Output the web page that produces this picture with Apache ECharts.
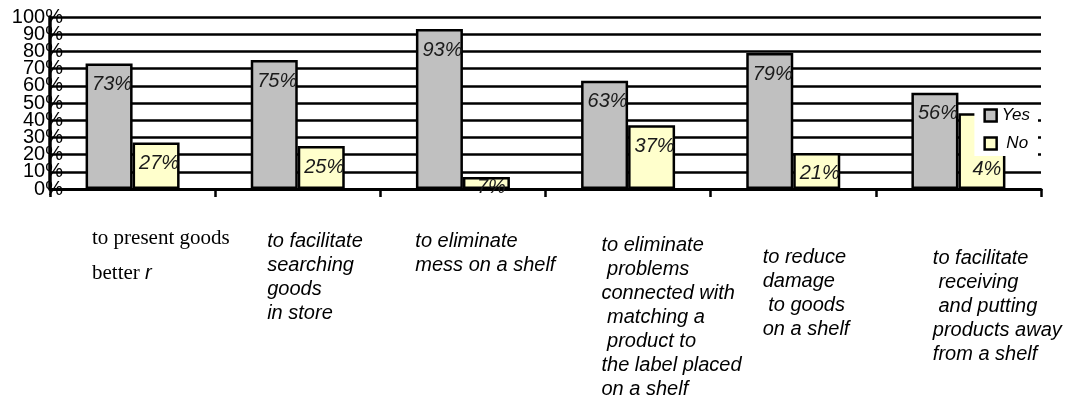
<!DOCTYPE html>
<html><head><meta charset="utf-8">
<script src="https://cdn.jsdelivr.net/npm/echarts@6/dist/echarts.min.js"></script>
<style>html,body{margin:0;padding:0;background:#fff}#c{width:1075px;height:401px}</style>
</head><body><div id="c"></div>
<script>
// ---- data ----
const categories = [
  'to present goods better r',
  'to facilitate searching goods in store',
  'to eliminate mess on a shelf',
  'to eliminate problems connected with matching a product to the label placed on a shelf',
  'to reduce damage to goods on a shelf',
  'to facilitate receiving and putting products away from a shelf'
];
const categoryLines = [
  ['to present goods', 'better r'],
  ['to facilitate', 'searching', 'goods', 'in store'],
  ['to eliminate', 'mess on a shelf'],
  ['to eliminate', ' problems', 'connected with', ' matching a', ' product to', 'the label placed', 'on a shelf'],
  ['to reduce', 'damage', ' to goods', 'on a shelf'],
  ['to facilitate', ' receiving', ' and putting', 'products away', 'from a shelf']
];
const seriesNames = ['Yes', 'No'];
const yesValues = [73, 75, 93, 63, 79, 56];
const noValues = [27, 25, 7, 37, 21, 44];
const yesLabels = ['73%', '75%', '93%', '63%', '79%', '56%'];
const noLabels = ['27%', '25%', '7%', '37%', '21%', '4%'];
const yTickLabels = ['0%', '10%', '20%', '30%', '40%', '50%', '60%', '70%', '80%', '90%', '100%'];

// ---- layout / style ----
const SANS = "'Liberation Sans', Arial, sans-serif";
const SERIF = "'Liberation Serif', 'Times New Roman', serif";
const padLeft = [42, 52, 35, 56, 52, 57];
const padTop = [0, 8, 8, 12, 24, 25];
const noLabelOffsets = {2: [5, -11], 5: [5, 35]};

const rich = {};
for (let i = 0; i < 6; i++) {
  rich['sp' + i] = {fontSize: 1, lineHeight: padTop[i] || 1};
  rich['t' + i] = i === 0
    ? {fontFamily: SERIF, fontSize: 21, lineHeight: 35, color: '#000', padding: [0, 0, 0, padLeft[i]]}
    : {fontFamily: SANS, fontStyle: 'italic', fontSize: 20, lineHeight: 24, color: '#000', padding: [0, 0, 0, padLeft[i]]};
}
rich.ri = {fontFamily: SANS, fontStyle: 'italic', fontSize: 20, lineHeight: 35, color: '#000'};

function catLabel(value, idx) {
  if (idx >= categoryLines.length) return '';
  const lines = categoryLines[idx];
  const parts = [];
  if (padTop[idx] > 0) parts.push('{sp' + idx + '| }');
  lines.forEach(function (ln) {
    if (idx === 0 && / r$/.test(ln)) {
      parts.push('{t0|' + ln.slice(0, -1) + '}{ri|r}');
    } else {
      parts.push('{t' + idx + '|' + ln + '}');
    }
  });
  return parts.join('\n');
}

const boundaryCats = categories.concat(['']);

const noData = noValues.map(function (v, i) {
  const o = {value: v};
  if (noLabelOffsets[i]) o.label = {offset: noLabelOffsets[i]};
  return o;
});

const barLabel = {
  show: true, position: 'insideTop', distance: 11, offset: [3, 0],
  fontFamily: SANS, fontStyle: 'italic', fontSize: 20, color: '#1a1a1a'
};

const yLabelStyle = {margin: -13, fontFamily: SANS, fontSize: 20, color: '#000', hideOverlap: false};
const yLast = yTickLabels.length - 1;

const chart = echarts.init(document.getElementById('c'), null, {renderer: 'canvas'});
chart.setOption({
  animation: false,
  backgroundColor: '#fff',
  grid: {left: 50, right: 34, top: 17, bottom: 212, containLabel: false, outerBoundsMode: 'none'},
  legend: {
    data: seriesNames,
    orient: 'vertical', right: 37, top: 106,
    backgroundColor: '#fff', padding: [1, 8, 4, 9],
    itemWidth: 12, itemHeight: 12, itemGap: 11, icon: 'rect',
    itemStyle: {borderColor: '#000', borderWidth: 2.5},
    formatter: function (n) { return n === 'No' ? ' No' : n; },
    textStyle: {fontFamily: SANS, fontStyle: 'italic', fontSize: 17, color: '#000'}
  },
  xAxis: [{
    type: 'category', data: categories, position: 'bottom', gridIndex: 0,
    axisLine: {show: true, lineStyle: {color: '#000', width: 3}},
    axisTick: {show: true, length: 8, interval: 0, alignWithLabel: false, lineStyle: {color: '#000', width: 2.5}},
    axisLabel: {show: false},
    splitLine: {show: false}
  }, {
    type: 'category', data: boundaryCats, position: 'bottom', gridIndex: 0, boundaryGap: false,
    axisLine: {show: false}, axisTick: {show: false}, splitLine: {show: false},
    axisLabel: {show: true, interval: 0, margin: 32, align: 'left', verticalAlign: 'top',
      formatter: catLabel, rich: rich, hideOverlap: false}
  }],
  yAxis: [{
    type: 'value', min: 0, max: 100, interval: 10, position: 'left',
    axisLine: {show: true, onZero: false, lineStyle: {color: '#000', width: 3.5}},
    axisTick: {show: false},
    splitLine: {show: true, lineStyle: {color: '#000', width: 2.6}},
    axisLabel: Object.assign({}, yLabelStyle, {
      showMinLabel: false, showMaxLabel: false,
      formatter: function (v) { return yTickLabels[Math.round(v / 10)]; }
    })
  }, {
    type: 'value', min: 0, max: 100, interval: 10, position: 'left', offset: 0,
    axisLine: {show: false}, axisTick: {show: false}, splitLine: {show: false},
    axisLabel: Object.assign({}, yLabelStyle, {
      showMinLabel: true, showMaxLabel: true,
      formatter: function (v) {
        const k = Math.round(v / 10);
        return (k === 0 || k === yLast) ? yTickLabels[k] : '';
      }
    })
  }],
  series: [{
    name: seriesNames[0], type: 'bar', xAxisIndex: 0, yAxisIndex: 0, data: yesValues,
    barWidth: 47, barGap: '0%',
    itemStyle: {color: '#c0c0c0', borderColor: '#000', borderWidth: 2.5},
    label: Object.assign({}, barLabel, {formatter: function (p) { return yesLabels[p.dataIndex]; }})
  }, {
    name: seriesNames[1], type: 'bar', xAxisIndex: 0, yAxisIndex: 0, data: noData,
    barWidth: 47, barGap: '0%',
    itemStyle: {color: '#ffffcc', borderColor: '#000', borderWidth: 2.5},
    label: Object.assign({}, barLabel, {formatter: function (p) { return noLabels[p.dataIndex]; }})
  }]
});
</script>
</body></html>
